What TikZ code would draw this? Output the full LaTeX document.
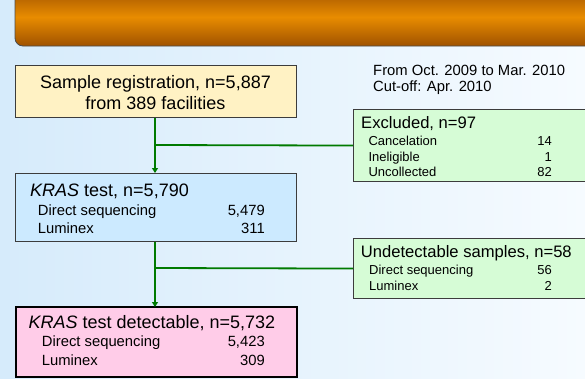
\documentclass[tikz,border=0pt]{standalone}
\usepackage{fontspec}
\setmainfont{Liberation Sans}
\definecolor{bgblue}{RGB}{214,235,251}
\definecolor{bgwhite}{RGB}{246,251,255}
\definecolor{bardark}{RGB}{160,82,0}
\definecolor{barmid}{RGB}{232,140,0}
\definecolor{regyellow}{RGB}{255,242,196}
\definecolor{krasblue}{RGB}{204,234,255}
\definecolor{detpink}{RGB}{255,204,232}
\definecolor{exclgreen}{RGB}{214,252,214}
\definecolor{flowgreen}{RGB}{0,122,0}
\definecolor{boxline}{RGB}{60,60,60}
\usetikzlibrary{arrows.meta, positioning, calc}

\begin{document}
\begin{tikzpicture}[
  x=1pt, y=-1pt,
  box/.style={rectangle, draw=boxline, line width=1.1pt, inner sep=0pt, anchor=north west},
  head/.style={inner sep=0pt, font=\fontsize{18}{21}\selectfont},
  sidehead/.style={inner sep=0pt, font=\fontsize{16.6}{19}\selectfont},
  item/.style={inner sep=0pt, font=\fontsize{14.8}{17}\selectfont},
  sideitem/.style={inner sep=0pt, font=\fontsize{13}{15}\selectfont},
  flow/.style={draw=flowgreen, line width=1.8pt},
  tip/.style={-{Triangle[width=6pt, length=5pt]}}
]
  % Background and title bar
  \useasboundingbox (0,0) rectangle (585,378);
  \clip (0,0) rectangle (585,378);
  \shade[left color=bgblue, right color=bgwhite] (0,0) rectangle (585,378);
  \shade[top color=bardark, bottom color=bardark, middle color=barmid,
         draw=black!70, line width=0.8pt, rounded corners=8pt]
    (15,-12) rectangle (610,46);

  % Main boxes
  \node[box, fill=regyellow, minimum width=281pt, minimum height=52pt]   (reg)   at (15,65)   {};
  \node[box, fill=krasblue, minimum width=281pt, minimum height=67.5pt]  (kras)  at (15,173)  {};
  \node[box, fill=detpink, draw=black, line width=2.4pt,
        minimum width=281pt, minimum height=70pt]                        (det)   at (15,306)  {};
  \node[box, fill=exclgreen, minimum width=250pt, minimum height=72pt]   (excl)  at (353,109) {};
  \node[box, fill=exclgreen, minimum width=250pt, minimum height=60pt]   (undet) at (353,238) {};

  % Period note
  \node[item, anchor=base west] (period) at (373,75.7) {From Oct. 2009 to Mar. 2010};
  \node[item, anchor=base west] (cutoff) at (373,91)   {Cut-off: Apr. 2010};

  % Registration
  \node[head, anchor=base] (regline1) at (155.5,88)  {Sample registration, n=5,887};
  \node[head, anchor=base] (regline2) at (155.5,109) {from 389 facilities};

  % KRAS test
  \node[head, anchor=base west] (krashead) at (30,196.7)  {\textit{KRAS} test, n=5,790};
  \node[item, anchor=base west] (krasds)   at (37.7,215)  {Direct sequencing};
  \node[item, anchor=base east] (krasdsn)  at (265,215)   {5,479};
  \node[item, anchor=base west] (kraslu)   at (37.7,233)  {Luminex};
  \node[item, anchor=base east] (kraslun)  at (265,233)   {311};

  % KRAS test detectable
  \node[head, anchor=base west] (dethead) at (28.3,328)  {\textit{KRAS} test detectable, n=5,732};
  \node[item, anchor=base west] (detds)   at (41.7,346.7) {Direct sequencing};
  \node[item, anchor=base east] (detdsn)  at (265,346.7)  {5,423};
  \node[item, anchor=base west] (detlu)   at (41.7,365)  {Luminex};
  \node[item, anchor=base east] (detlun)  at (265,365)   {309};

  % Excluded
  \node[sidehead, anchor=base west] (exclhead) at (361,128) {Excluded, n=97};
  \node[sideitem, anchor=base west] (exclca)   at (368.3,145) {Cancelation};
  \node[sideitem, anchor=base east] (exclcan)  at (552,145)   {14};
  \node[sideitem, anchor=base west] (exclin)   at (368.3,161) {Ineligible};
  \node[sideitem, anchor=base east] (exclinn)  at (552,161)   {1};
  \node[sideitem, anchor=base west] (exclun)   at (368.3,176.5) {Uncollected};
  \node[sideitem, anchor=base east] (exclunn)  at (552,176.5) {82};

  % Undetectable samples
  \node[sidehead, anchor=base west] (undethead) at (360.7,257) {Undetectable samples, n=58};
  \node[sideitem, anchor=base west] (undetds)   at (369,274.5) {Direct sequencing};
  \node[sideitem, anchor=base east] (undetdsn)  at (552,274.5) {56};
  \node[sideitem, anchor=base west] (undetlu)   at (369,290)   {Luminex};
  \node[sideitem, anchor=base east] (undetlun)  at (552,290)   {2};

  % Flow connectors
  \coordinate (split1) at (155,145);
  \coordinate (split2) at (155,268);
  \draw[flow, tip] (split1 |- reg.south) -- (split1 |- kras.north);
  \draw[flow] (split1) -- (excl.west);
  \draw[flow, tip] (split2 |- kras.south) -- ([yshift=-1pt]split2 |- det.north);
  \draw[flow] (split2) -- (undet.west);
\end{tikzpicture}
\end{document}
